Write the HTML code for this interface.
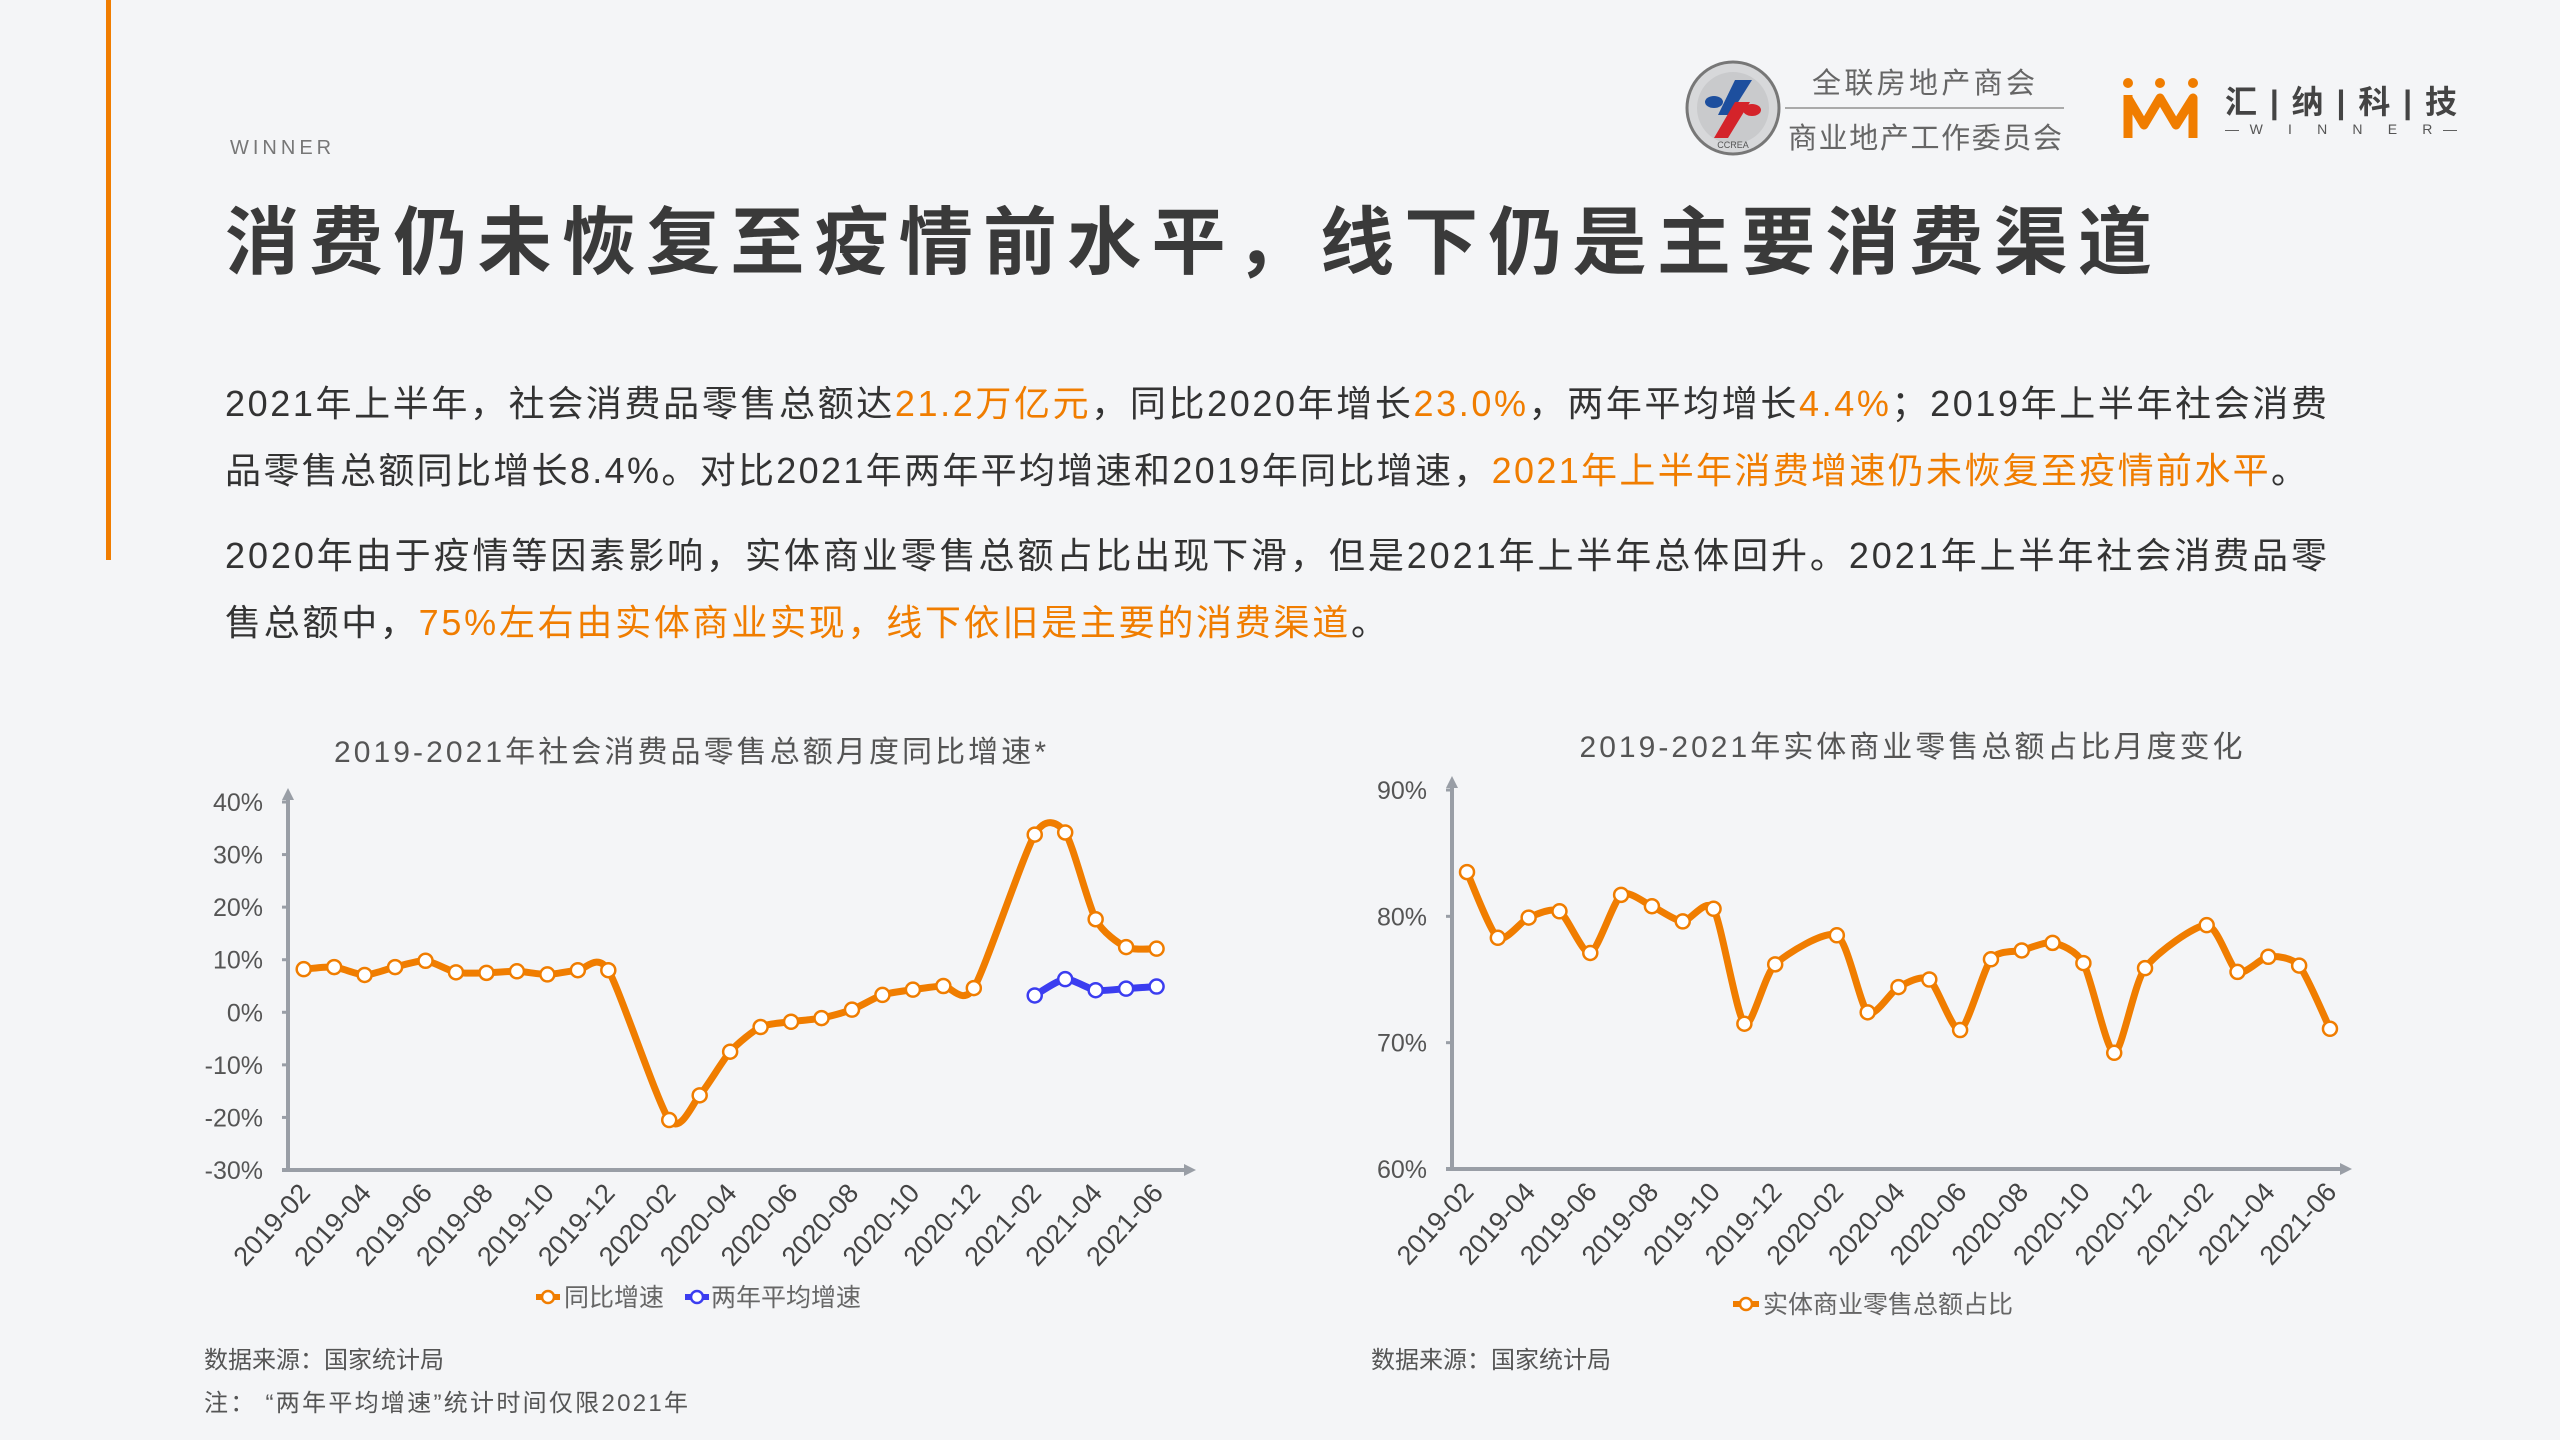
<!DOCTYPE html>
<html><head><meta charset="utf-8"><style>
html,body{margin:0;padding:0;background:#f4f5f7;}
svg{display:block;font-family:"Liberation Sans","Noto Sans CJK SC",sans-serif;}
</style></head><body>
<svg id="page" width="2560" height="1440" viewBox="0 0 2560 1440" xmlns="http://www.w3.org/2000/svg">
<rect width="2560" height="1440" fill="#f4f5f7"/>
<rect x="106" y="0" width="5" height="560" fill="#f07d00"/>
<text x="230" y="154" font-size="20" fill="#777" letter-spacing="4">WINNER</text>
<text x="225" y="268" font-size="74" font-weight="bold" fill="#3a3a3a" textLength="1927" lengthAdjust="spacing">消费仍未恢复至疫情前水平，线下仍是主要消费渠道</text>

<g font-size="36" fill="#333">
<text x="225" y="416" textLength="2102" lengthAdjust="spacing">2021年上半年，社会消费品零售总额达<tspan fill="#f07d00">21.2万亿元</tspan>，同比2020年增长<tspan fill="#f07d00">23.0%</tspan>，两年平均增长<tspan fill="#f07d00">4.4%</tspan>；2019年上半年社会消费</text>
<text x="225" y="483" textLength="2082" lengthAdjust="spacing">品零售总额同比增长8.4%。对比2021年两年平均增速和2019年同比增速，<tspan fill="#f07d00">2021年上半年消费增速仍未恢复至疫情前水平</tspan>。</text>
<text x="225" y="568" textLength="2102" lengthAdjust="spacing">2020年由于疫情等因素影响，实体商业零售总额占比出现下滑，但是2021年上半年总体回升。2021年上半年社会消费品零</text>
<text x="225" y="635" textLength="1162" lengthAdjust="spacing">售总额中，<tspan fill="#f07d00">75%左右由实体商业实现，线下依旧是主要的消费渠道</tspan>。</text>
</g>

<g>
<circle cx="1733" cy="108" r="46" fill="#d7d8da" stroke="#777" stroke-width="3"/>
<circle cx="1733" cy="108" r="36" fill="#c9cacc"/>
<path d="M1735 80 L1752 80 L1730 115 L1718 115 Z" fill="#1d4f9e"/>
<path d="M1735 102 L1750 102 L1728 138 L1714 138 Z" fill="#d4232a"/>
<ellipse cx="1714" cy="102" rx="9" ry="6" fill="#1d4f9e"/>
<ellipse cx="1752" cy="110" rx="9" ry="6" fill="#d4232a"/>
<text x="1733" y="148" font-size="9" fill="#555" text-anchor="middle">CCREA</text>
<text x="1812" y="93" font-size="29" fill="#666" textLength="223" lengthAdjust="spacing">全联房地产商会</text>
<rect x="1785" y="107" width="279" height="2" fill="#aaa"/>
<text x="1788" y="148" font-size="29" fill="#666" textLength="274" lengthAdjust="spacing">商业地产工作委员会</text>
</g>
<g>
<circle cx="2128" cy="83" r="5" fill="#f07d00"/><circle cx="2160" cy="83" r="5" fill="#f07d00"/><circle cx="2193" cy="83" r="5" fill="#f07d00"/>
<path d="M2128 95 L2128 138 M2128 98 L2144 125 L2160 98 L2176 125 L2193 98 L2193 138" stroke="#f07d00" stroke-width="9" fill="none" stroke-linejoin="round"/>
<text x="2225" y="113" font-size="32" font-weight="bold" fill="#444" textLength="232" lengthAdjust="spacing">汇 | 纳 | 科 | 技</text>
<text x="2225" y="134" font-size="14" fill="#555" textLength="232" lengthAdjust="spacing">—W I N N E R—</text>
</g>

<text x="690" y="762" font-size="30" fill="#555" text-anchor="middle" textLength="712" lengthAdjust="spacing">2019-2021年社会消费品零售总额月度同比增速*</text>
<text x="1911" y="757" font-size="30" fill="#555" text-anchor="middle" textLength="663" lengthAdjust="spacing">2019-2021年实体商业零售总额占比月度变化</text>

<g id="leftChart"></g>
<g id="rightChart"></g>

<g>
<line x1="536" y1="1297" x2="560" y2="1297" stroke="#f07d00" stroke-width="6"/><circle cx="548" cy="1297" r="6" fill="#fff" stroke="#f07d00" stroke-width="2.5"/>
<text x="564" y="1306" font-size="25" fill="#666">同比增速</text>
<line x1="685" y1="1297" x2="709" y2="1297" stroke="#3b3df0" stroke-width="6"/><circle cx="697" cy="1297" r="6" fill="#fff" stroke="#3b3df0" stroke-width="2.5"/>
<text x="711" y="1306" font-size="25" fill="#666">两年平均增速</text>
</g>
<g>
<line x1="1733" y1="1304" x2="1759" y2="1304" stroke="#f07d00" stroke-width="6"/><circle cx="1746" cy="1304" r="6" fill="#fff" stroke="#f07d00" stroke-width="2.5"/>
<text x="1763" y="1313" font-size="25" fill="#666">实体商业零售总额占比</text>
</g>

<text x="204" y="1368" font-size="24" fill="#555">数据来源：国家统计局</text>
<text x="204" y="1411" font-size="24" fill="#555" textLength="484" lengthAdjust="spacing">注： “两年平均增速”统计时间仅限2021年</text>
<text x="1371" y="1368" font-size="24" fill="#555">数据来源：国家统计局</text>
</svg>
<script>
const months = ["2019-02","2019-03","2019-04","2019-05","2019-06","2019-07","2019-08","2019-09","2019-10","2019-11","2019-12","2020-01","2020-02","2020-03","2020-04","2020-05","2020-06","2020-07","2020-08","2020-09","2020-10","2020-11","2020-12","2021-01","2021-02","2021-03","2021-04","2021-05","2021-06"];
const yoyGrowth = [8.2,8.6,7.1,8.6,9.8,7.6,7.5,7.8,7.2,8.0,8.0,null,-20.5,-15.8,-7.5,-2.8,-1.8,-1.1,0.5,3.3,4.3,5.0,4.6,null,33.8,34.2,17.7,12.4,12.1];
const twoYearAvg = [null,null,null,null,null,null,null,null,null,null,null,null,null,null,null,null,null,null,null,null,null,null,null,null,3.2,6.3,4.2,4.5,4.9];
const physicalShare = [83.5,78.3,79.9,80.4,77.1,81.7,80.8,79.6,80.6,71.5,76.2,null,78.5,72.4,74.4,75.0,71.0,76.6,77.3,77.9,76.3,69.2,75.9,null,79.3,75.6,76.8,76.1,71.1];
const leftTicks = [40,30,20,10,0,-10,-20,-30];
const rightTicks = [90,80,70,60];

const NS = "http://www.w3.org/2000/svg";
function mk(tag, attrs, parent){const e=document.createElementNS(NS,tag);for(const k in attrs)e.setAttribute(k,attrs[k]);parent.appendChild(e);return e;}
function smoothPath(pts){
  let d="M"+pts[0][0]+" "+pts[0][1];
  for(let i=0;i<pts.length-1;i++){
    const p0=pts[i-1]||pts[i],p1=pts[i],p2=pts[i+1],p3=pts[i+2]||p2;
    const t=0.12;
    const c1=[p1[0]+(p2[0]-p0[0])*t,p1[1]+(p2[1]-p0[1])*t];
    const c2=[p2[0]-(p3[0]-p1[0])*t,p2[1]-(p3[1]-p1[1])*t];
    d+=" C"+c1[0]+" "+c1[1]+" "+c2[0]+" "+c2[1]+" "+p2[0]+" "+p2[1];
  }
  return d;
}
function drawChart(g, cfg){
  const axisCol="#999ea6";
  const yAx=mk("line",{x1:cfg.ax,y1:cfg.yTop-8,x2:cfg.ax,y2:cfg.yBot,stroke:axisCol,"stroke-width":4},g);
  
  
  mk("path",{d:`M${cfg.ax-6} ${cfg.yTop-2} L${cfg.ax} ${cfg.yTop-14} L${cfg.ax+6} ${cfg.yTop-2} Z`,fill:axisCol},g);
  const xAx=mk("line",{x1:cfg.ax-6,y1:cfg.yBot,x2:cfg.xEnd,y2:cfg.yBot,stroke:axisCol,"stroke-width":4},g);
  
  
  mk("path",{d:`M${cfg.xEnd-2} ${cfg.yBot-6} L${cfg.xEnd+10} ${cfg.yBot} L${cfg.xEnd-2} ${cfg.yBot+6} Z`,fill:axisCol},g);
  cfg.ticks.forEach(v=>{
    const y=cfg.y(v);
    mk("line",{x1:cfg.ax-6,y1:y,x2:cfg.ax,y2:y,stroke:axisCol,"stroke-width":3},g);
    const t=mk("text",{x:cfg.tickX,y:y+9,"font-size":25,fill:"#555","text-anchor":"end"},g);
    t.textContent=v+"%";
    
    
  });
  months.forEach((m,i)=>{
    if(i%2) return;
    const x=cfg.x(i)+8, y=cfg.yBot+24;
    const t=mk("text",{x:x,y:y,"font-size":27,fill:"#444","text-anchor":"end",transform:`rotate(-48 ${x} ${y})`},g);
    t.textContent=m;
    
    
  });
  cfg.series.forEach(s=>{
    const pts=[];
    s.data.forEach((v,i)=>{if(v!==null)pts.push([cfg.x(i),cfg.y(v)]);});
    const p=mk("path",{d:smoothPath(pts),fill:"none",stroke:s.color,"stroke-width":7,"stroke-linejoin":"round","stroke-linecap":"round"},g);
    
    
    pts.forEach(pt=>{
      const c=mk("circle",{cx:pt[0],cy:pt[1],r:7,fill:"#fff",stroke:s.color,"stroke-width":2.5},g);
      
      
    });
  });
}
drawChart(document.getElementById("leftChart"),{
  ax:288,yTop:802,yBot:1170,xEnd:1186,tickX:263,ticks:leftTicks,
  x:i=>303.7+i*30.46,
  y:v=>802+(40-v)*(368/70),
  series:[{name:"yoy-growth",data:yoyGrowth,color:"#f07d00"},{name:"two-year-avg",data:twoYearAvg,color:"#3b3df0"}]
});
drawChart(document.getElementById("rightChart"),{
  ax:1452,yTop:790,yBot:1169,xEnd:2342,tickX:1427,ticks:rightTicks,
  x:i=>1467+i*30.82,
  y:v=>790+(90-v)*(379/30),
  series:[{name:"physical-share",data:physicalShare,color:"#f07d00"}]
});
</script>
</body></html>
